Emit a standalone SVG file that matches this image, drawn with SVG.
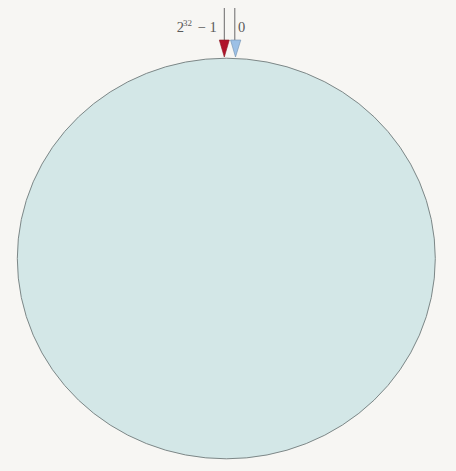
<svg xmlns="http://www.w3.org/2000/svg" width="456" height="471" viewBox="0 0 456 471">
<style>
.lbl{font-family:"Liberation Serif","DejaVu Serif",serif;fill:#5a5a5a;font-size:14.5px}
.sup{font-size:9px}
.ln{stroke:#6a6a6a;stroke-width:1;fill:none}
</style>
<rect width="456" height="471" fill="#f7f6f3"/>
<g id="ring">
<ellipse cx="226.3" cy="258.5" rx="209" ry="200.3" fill="#d3e7e7" stroke="#7d8787" stroke-width="1"/>
</g>
<g id="connectors">
<line class="ln" x1="224.3" y1="8" x2="224.3" y2="41"/>
<line class="ln" x1="234.8" y1="8" x2="234.8" y2="41"/>
</g>
<g id="marker-max">
<polygon points="219.3,40 229.3,40 224.3,57" fill="#b0132a" stroke="#8a1a24" stroke-width="0.6"/>
<text class="lbl" y="31.7"><tspan x="176.8">2</tspan><tspan class="sup" x="183" y="25.5">32</tspan><tspan x="197.5" y="31.7">−</tspan><tspan x="209.5">1</tspan></text>
</g>
<g id="marker-zero">
<polygon points="230.5,40 240.8,40 235.5,57" fill="#9cc0e6" stroke="#6f8fae" stroke-width="0.6"/>
<text class="lbl" x="238" y="31.7">0</text>
</g>
</svg>
